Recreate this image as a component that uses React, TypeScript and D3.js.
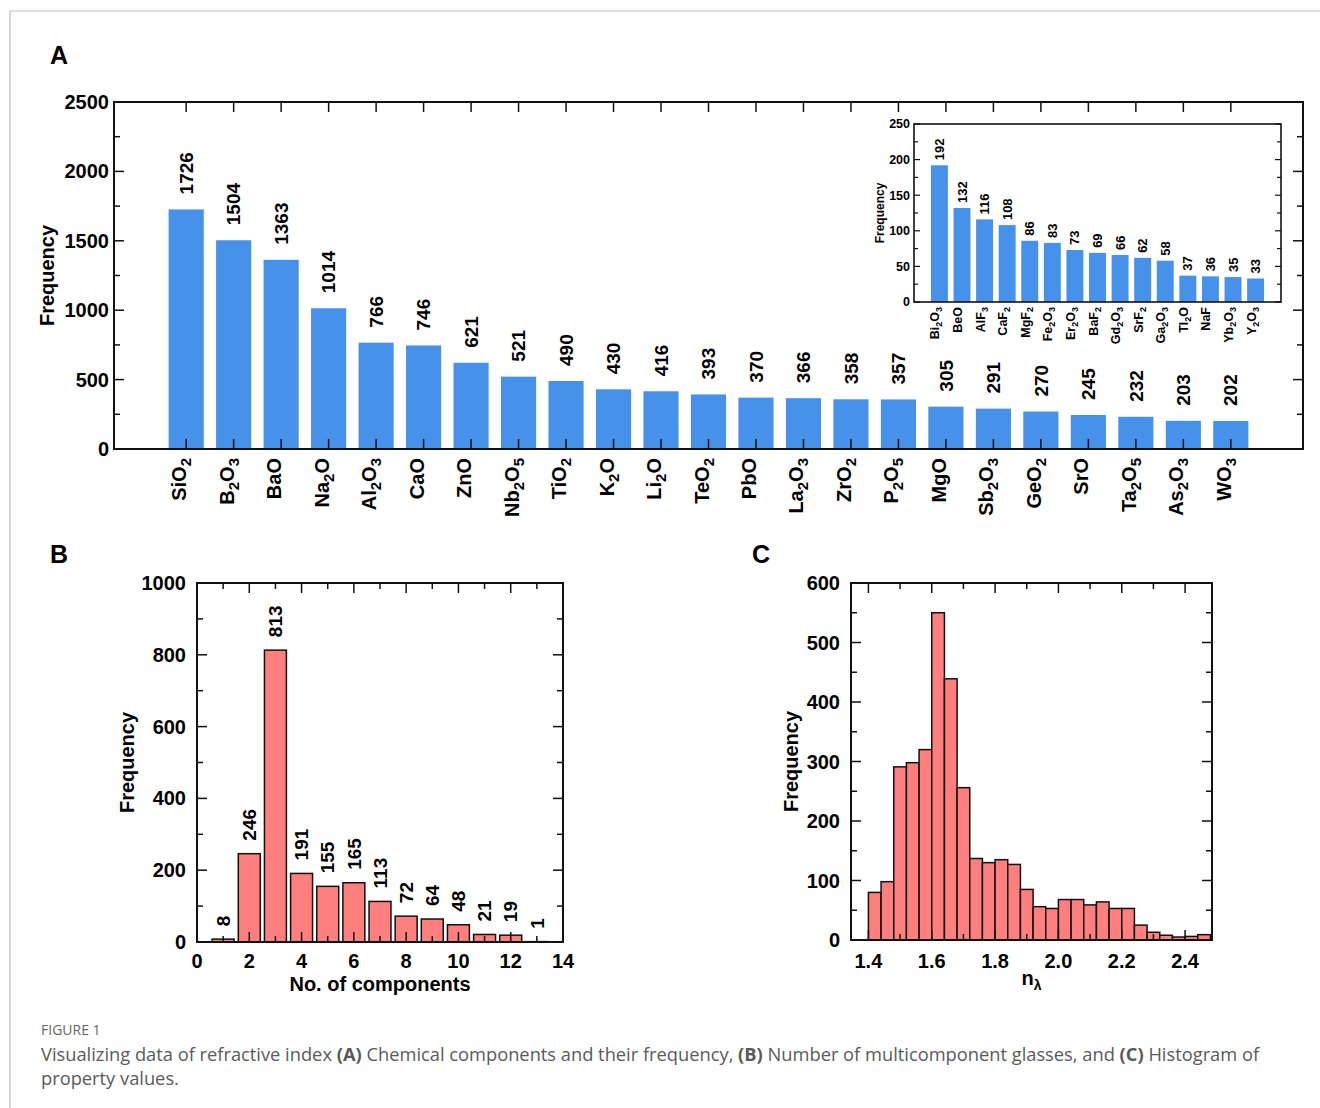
import React from 'react';
import * as d3 from 'd3';

// panel A: chemical components and their frequency
const componentsA = ['SiO2', 'B2O3', 'BaO', 'Na2O', 'Al2O3', 'CaO', 'ZnO', 'Nb2O5', 'TiO2', 'K2O', 'Li2O', 'TeO2',
  'PbO', 'La2O3', 'ZrO2', 'P2O5', 'MgO', 'Sb2O3', 'GeO2', 'SrO', 'Ta2O5', 'As2O3', 'WO3'];
const countsA = [1726, 1504, 1363, 1014, 766, 746, 621, 521, 490, 430, 416, 393, 370, 366, 358, 357, 305, 291, 270, 245, 232, 203, 202];
const ticksA = [0, 500, 1000, 1500, 2000, 2500];

// inset of panel A
const componentsInset = ['Bi2O3', 'BeO', 'AlF3', 'CaF2', 'MgF2', 'Fe2O3', 'Er2O3', 'BaF2', 'Gd2O3', 'SrF2', 'Ga2O3', 'Tl2O', 'NaF', 'Yb2O3', 'Y2O3'];
const countsInset = [192, 132, 116, 108, 86, 83, 73, 69, 66, 62, 58, 37, 36, 35, 33];
const ticksInset = [0, 50, 100, 150, 200, 250];

// panel B: number of components per glass
const nComponents = [1, 2, 3, 4, 5, 6, 7, 8, 9, 10, 11, 12, 13];
const glassCounts = [8, 246, 813, 191, 155, 165, 113, 72, 64, 48, 21, 19, 1];
const ticksBx = [0, 2, 4, 6, 8, 10, 12, 14];
const ticksBy = [0, 200, 400, 600, 800, 1000];

// panel C: histogram of refractive index
const binEdges = [1.40, 1.44, 1.48, 1.52, 1.56, 1.60, 1.64, 1.68, 1.72, 1.76, 1.80, 1.84, 1.88, 1.92, 1.96,
  2.00, 2.04, 2.08, 2.12, 2.16, 2.20, 2.24, 2.28, 2.32, 2.36, 2.40, 2.44, 2.48];
const binCounts = [80, 98, 291, 298, 320, 550, 439, 256, 137, 130, 135, 127, 85, 56, 53, 68, 68, 59, 64, 53, 53, 25, 13, 8, 5, 6, 9];
const ticksCx = [1.4, 1.6, 1.8, 2.0, 2.2, 2.4];
const ticksCy = [0, 100, 200, 300, 400, 500, 600];

const FONT = '"Liberation Sans", Arial, sans-serif';
const BLUE = '#4691EA';
const PINK = '#FF7F7F';

// chemical formula with subscripted digits
const Formula = ({ text, sub, shift }: { text: string; sub: number; shift: number }) => {
  const parts = text.split(/(\d+)/).filter(Boolean);
  let low = false;
  return (
    <>
      {parts.map((p, i) => {
        if (/^\d+$/.test(p)) {
          low = true;
          return <tspan key={i} fontSize={sub} dy={shift}>{p}</tspan>;
        }
        const dy = low ? -shift : 0;
        low = false;
        return <tspan key={i} dy={dy}>{p}</tspan>;
      })}
    </>
  );
};

const tickLines = (vals: any[], pos: (v: any) => number, side: string, box: any, len: number, w = 1.5) =>
  vals.map((v, i) => {
    const p = pos(v);
    if (side === 'left') return <line key={side + i} x1={box.l} x2={box.l + len} y1={p} y2={p} stroke="#111" strokeWidth={w} />;
    if (side === 'right') return <line key={side + i} x1={box.r} x2={box.r - len} y1={p} y2={p} stroke="#111" strokeWidth={w} />;
    if (side === 'top') return <line key={side + i} y1={box.t} y2={box.t + len} x1={p} x2={p} stroke="#111" strokeWidth={w} />;
    return <line key={side + i} y1={box.b} y2={box.b - len} x1={p} x2={p} stroke="#111" strokeWidth={w} />;
  });

const PanelA = () => {
  const box = { l: 114, t: 102, r: 1303, b: 449 };
  const x = d3.scaleBand<string>().domain(componentsA).range([box.l, box.r]).paddingInner(0.26).paddingOuter(1.15);
  const y = d3.scaleLinear().domain([0, 2500]).range([box.b, box.t]);
  const minor = d3.range(0, 2501, 250).filter(v => v % 500 !== 0);
  const cx = (c: string) => (x(c) as number) + x.bandwidth() / 2;
  return (
    <g fontFamily={FONT} fontWeight="bold">
      <text x={50} y={64} fontSize={25}>A</text>
      {componentsA.map((c, i) => (
        <rect key={c} x={x(c)} y={y(countsA[i])} width={x.bandwidth()} height={box.b - y(countsA[i])} fill={BLUE} />
      ))}
      {tickLines(ticksA, y, 'left', box, 10)}
      {tickLines(minor, y, 'left', box, 6)}
      {tickLines(ticksA, y, 'right', box, 10)}
      {tickLines(minor, y, 'right', box, 6)}
      {tickLines(componentsA, cx, 'top', box, 10)}
      {tickLines(componentsA, cx, 'bottom', box, 10)}
      <rect x={box.l} y={box.t} width={box.r - box.l} height={box.b - box.t} fill="none" stroke="#111" strokeWidth={2} />
      {ticksA.map(v => (
        <text key={v} x={box.l - 5} y={y(v)} dy="0.35em" textAnchor="end" fontSize={20}>{v}</text>
      ))}
      <text transform={`translate(47,${(box.t + box.b) / 2}) rotate(-90)`} dy="0.35em" textAnchor="middle" fontSize={20}>Frequency</text>
      {componentsA.map((c, i) => (
        <text key={c} transform={`translate(${cx(c)},${y(countsA[i]) - 15}) rotate(-90)`} dy="0.35em" fontSize={19}>{countsA[i]}</text>
      ))}
      {componentsA.map(c => (
        <text key={c} transform={`translate(${cx(c)},${box.b + 9}) rotate(-90)`} dy="0.35em" textAnchor="end" fontSize={20}>
          <Formula text={c} sub={15} shift={5} />
        </text>
      ))}
      <Inset />
    </g>
  );
};

const Inset = () => {
  const box = { l: 914, t: 124, r: 1281, b: 302 };
  const x = d3.scaleBand<string>().domain(componentsInset).range([box.l, box.r]).paddingInner(0.25).paddingOuter(0.75);
  const y = d3.scaleLinear().domain([0, 250]).range([box.b, box.t]);
  const minor = d3.range(25, 250, 50);
  const cx = (c: string) => (x(c) as number) + x.bandwidth() / 2;
  return (
    <g>
      <rect x={box.l} y={box.t} width={box.r - box.l} height={box.b - box.t} fill="#fff" />
      {componentsInset.map((c, i) => (
        <rect key={c} x={x(c)} y={y(countsInset[i])} width={x.bandwidth()} height={box.b - y(countsInset[i])} fill={BLUE} />
      ))}
      {tickLines(ticksInset, y, 'left', box, 6, 1.2)}
      {tickLines(minor, y, 'left', box, 4, 1.2)}
      {tickLines(ticksInset, y, 'right', box, 6, 1.2)}
      {tickLines(minor, y, 'right', box, 4, 1.2)}
      <rect x={box.l} y={box.t} width={box.r - box.l} height={box.b - box.t} fill="none" stroke="#111" strokeWidth={1.6} />
      {ticksInset.map(v => (
        <text key={v} x={box.l - 4} y={y(v)} dy="0.35em" textAnchor="end" fontSize={12.5}>{v}</text>
      ))}
      <text transform={`translate(880,${(box.t + box.b) / 2}) rotate(-90)`} dy="0.35em" textAnchor="middle" fontSize={12}>Frequency</text>
      {componentsInset.map((c, i) => (
        <text key={c} transform={`translate(${cx(c)},${y(countsInset[i]) - 5}) rotate(-90)`} dy="0.35em" fontSize={13}>{countsInset[i]}</text>
      ))}
      {componentsInset.map(c => (
        <text key={c} transform={`translate(${cx(c)},${box.b + 5}) rotate(-90)`} dy="0.35em" textAnchor="end" fontSize={12.5}>
          <Formula text={c} sub={9} shift={3} />
        </text>
      ))}
    </g>
  );
};

const PanelB = () => {
  const box = { l: 197, t: 583, r: 563, b: 942 };
  const x = d3.scaleLinear().domain([0, 14]).range([box.l, box.r]);
  const y = d3.scaleLinear().domain([0, 1000]).range([box.b, box.t]);
  const bw = x(0.84) - x(0);
  const xMinor = d3.range(1, 14, 2);
  const yMinor = d3.range(100, 1000, 200);
  return (
    <g fontFamily={FONT} fontWeight="bold">
      <text x={50} y={563} fontSize={25}>B</text>
      {nComponents.map((n, i) => (
        <rect key={n} x={x(n) - bw / 2} y={y(glassCounts[i])} width={bw} height={box.b - y(glassCounts[i])}
          fill={PINK} stroke="#111" strokeWidth={1.5} />
      ))}
      {tickLines(ticksBy, y, 'left', box, 10)}
      {tickLines(yMinor, y, 'left', box, 6)}
      {tickLines(ticksBy, y, 'right', box, 10)}
      {tickLines(yMinor, y, 'right', box, 6)}
      {tickLines(ticksBx, x, 'top', box, 10)}
      {tickLines(xMinor, x, 'top', box, 6)}
      {tickLines(ticksBx, x, 'bottom', box, 10)}
      {tickLines(xMinor, x, 'bottom', box, 6)}
      <rect x={box.l} y={box.t} width={box.r - box.l} height={box.b - box.t} fill="none" stroke="#111" strokeWidth={2} />
      {ticksBy.map(v => (
        <text key={v} x={box.l - 11} y={y(v)} dy="0.35em" textAnchor="end" fontSize={20}>{v}</text>
      ))}
      {ticksBx.map(v => (
        <text key={v} x={x(v)} y={968} textAnchor="middle" fontSize={20}>{v}</text>
      ))}
      <text x={(box.l + box.r) / 2} y={991} textAnchor="middle" fontSize={20}>No. of components</text>
      <text transform={`translate(127,${(box.t + box.b) / 2}) rotate(-90)`} dy="0.35em" textAnchor="middle" fontSize={20}>Frequency</text>
      {nComponents.map((n, i) => (
        <text key={n} transform={`translate(${x(n)},${y(glassCounts[i]) - 13}) rotate(-90)`} dy="0.35em" fontSize={19}>{glassCounts[i]}</text>
      ))}
    </g>
  );
};

const PanelC = () => {
  const box = { l: 851, t: 583, r: 1212, b: 940 };
  const x = d3.scaleLinear().domain([1.345, 2.485]).range([box.l, box.r]);
  const y = d3.scaleLinear().domain([0, 600]).range([box.b, box.t]);
  const xMinor = [1.5, 1.7, 1.9, 2.1, 2.3];
  const yMinor = d3.range(50, 600, 100);
  return (
    <g fontFamily={FONT} fontWeight="bold">
      <text x={752} y={563} fontSize={25}>C</text>
      {binCounts.map((c, i) => (
        <rect key={i} x={x(binEdges[i])} y={y(c)} width={x(binEdges[i + 1]) - x(binEdges[i])} height={box.b - y(c)}
          fill={PINK} stroke="#111" strokeWidth={1.5} />
      ))}
      {tickLines(ticksCy, y, 'left', box, 10)}
      {tickLines(yMinor, y, 'left', box, 6)}
      {tickLines(ticksCy, y, 'right', box, 10)}
      {tickLines(yMinor, y, 'right', box, 6)}
      {tickLines(ticksCx, x, 'top', box, 10)}
      {tickLines(xMinor, x, 'top', box, 6)}
      {tickLines(ticksCx, x, 'bottom', box, 10)}
      {tickLines(xMinor, x, 'bottom', box, 6)}
      <rect x={box.l} y={box.t} width={box.r - box.l} height={box.b - box.t} fill="none" stroke="#111" strokeWidth={2} />
      {ticksCy.map(v => (
        <text key={v} x={box.l - 11} y={y(v)} dy="0.35em" textAnchor="end" fontSize={20}>{v}</text>
      ))}
      {ticksCx.map(v => (
        <text key={v} x={x(v)} y={968} textAnchor="middle" fontSize={20}>{v.toFixed(1)}</text>
      ))}
      <text x={(box.l + box.r) / 2} y={985} textAnchor="middle" fontSize={20}>
        n<tspan fontSize={14} dy={5}>λ</tspan>
      </text>
      <text transform={`translate(791,${(box.t + box.b) / 2}) rotate(-90)`} dy="0.35em" textAnchor="middle" fontSize={20}>Frequency</text>
    </g>
  );
};

const Caption = () => (
  <g fontFamily='"Open Sans", "Noto Sans", sans-serif' fill="#5a5a5a">
    <text x={41} y={1035} fontSize={14} fill="#666">FIGURE 1</text>
    <text x={41} y={1061} fontSize={18.3}>
      Visualizing data of refractive index <tspan fontWeight="bold">(A)</tspan> Chemical components and their frequency,{' '}
      <tspan fontWeight="bold">(B)</tspan> Number of multicomponent glasses, and <tspan fontWeight="bold">(C)</tspan> Histogram of
    </text>
    <text x={41} y={1085} fontSize={18.3}>property values.</text>
  </g>
);

export default function App() {
  return (
    <svg width={1320} height={1108} style={{ position: 'absolute', left: 0, top: 0, background: '#fff' }}>
      <path d="M1320,11H10V1108" fill="none" stroke="#bbb" strokeWidth={1.2} />
      <PanelA />
      <PanelB />
      <PanelC />
      <Caption />
    </svg>
  );
}
